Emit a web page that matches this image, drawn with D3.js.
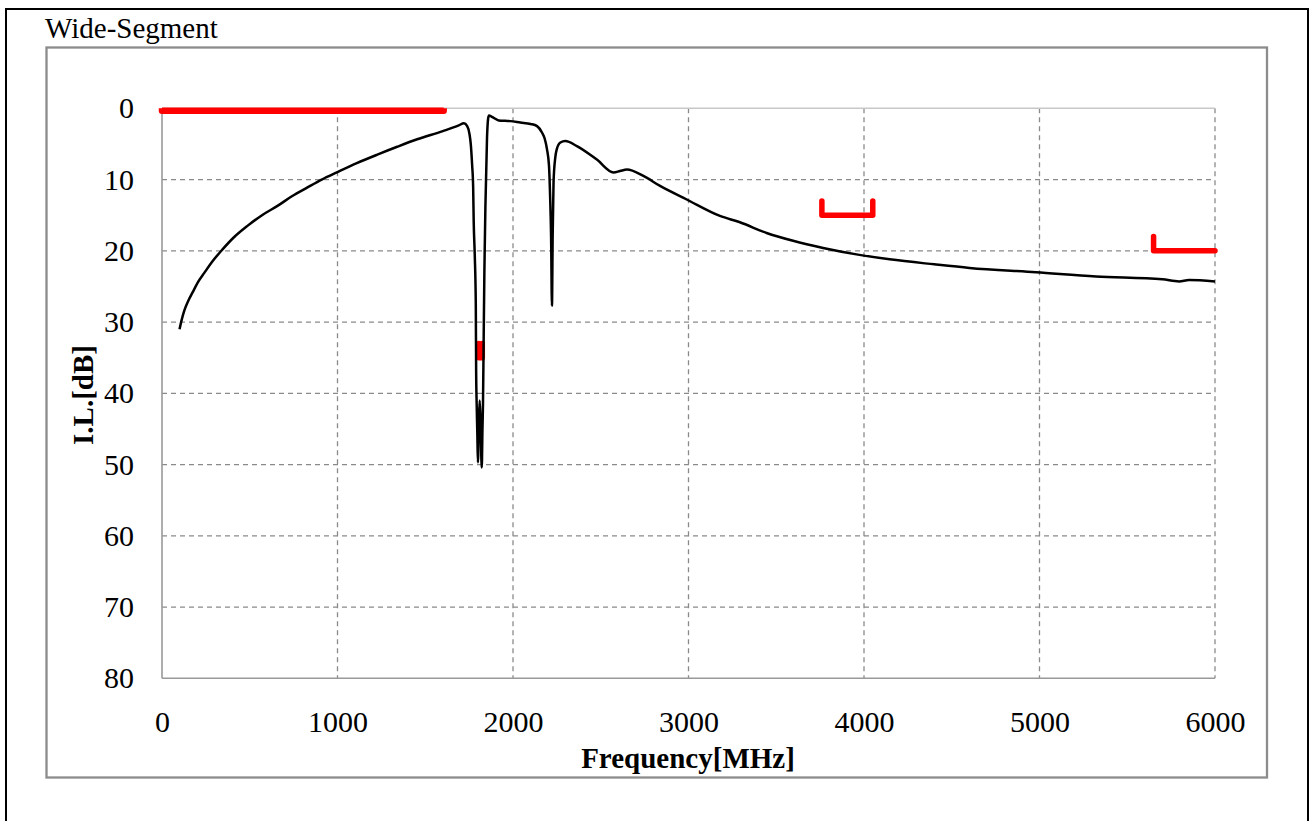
<!DOCTYPE html>
<html>
<head>
<meta charset="utf-8">
<script src="https://cdn.jsdelivr.net/npm/d3@7"></script>
<style>
body { margin: 0; background: #fff; }
text { font-family: "Liberation Serif", "Times New Roman", serif; }
</style>
</head>
<body>
<svg id="chart" width="1316" height="821"></svg>
<script>
// measured insertion loss
const freqMHz = [100, 110, 127, 150, 175, 205, 241, 290, 345, 410, 487, 570, 658, 740, 829, 910, 1000, 1110, 1227, 1340, 1454, 1600, 1691, 1720, 1739, 1752, 1760, 1767, 1773, 1776, 1782, 1788, 1790, 1793, 1797, 1800, 1806, 1810, 1815, 1822, 1826, 1829, 1833, 1837, 1843, 1852, 1858, 1863, 1880, 1918, 1985, 2042, 2100, 2137, 2165, 2180, 2194, 2205, 2212, 2217, 2222, 2226, 2231, 2241, 2250, 2270, 2298, 2364, 2478, 2573, 2610, 2649, 2743, 2838, 2990, 3179, 3293, 3445, 3596, 3767, 3957, 4146, 4400, 4601, 4980, 5322, 5700, 5795, 5852, 6000];
const ilDB = [31.0, 29.9, 28.4, 27.0, 25.8, 24.4, 23.1, 21.4, 19.8, 18.1, 16.5, 15.0, 13.7, 12.35, 11.1, 10.0, 8.95, 7.7, 6.5, 5.4, 4.35, 3.2, 2.4, 2.1, 2.5, 3.6, 5.2, 7.9, 11.1, 15.8, 20.5, 27.5, 36.9, 41.5, 46, 49.7, 44, 41, 44, 50.4, 45, 41.5, 32, 22.8, 13.5, 4.1, 1.5, 1.0, 1.2, 1.7, 1.8, 2.0, 2.2, 2.5, 3.4, 4.2, 5.8, 8.0, 12.8, 18, 27.7, 18, 10.4, 6.9, 5.7, 4.8, 4.6, 5.3, 7.2, 9.0, 8.8, 8.6, 9.5, 10.9, 12.8, 15.1, 16.0, 17.5, 18.6, 19.6, 20.5, 21.2, 21.9, 22.4, 23.0, 23.6, 24.0, 24.3, 24.1, 24.3];

// spec masks (red)
const specStart = [0, 1805, 3760, 5650];
const specStop = [1605, 1825, 4050, 6000];
const specLevel = [0.35, 35, 15, 20];
const specTop = [0, 33, 13, 18];
const specTicks = ["both", "both", "both", "left"];

const xTicks = [0, 1000, 2000, 3000, 4000, 5000, 6000];
const yTicks = [0, 10, 20, 30, 40, 50, 60, 70, 80];

const svg = d3.select("#chart");

const x = d3.scaleLinear().domain([0, 6000]).range([162, 1215]);
const y = d3.scaleLinear().domain([0, 80]).range([108.3, 678.3]);

// outer border
svg.append("rect")
    .attr("x", 6).attr("y", 9)
    .attr("width", 1302).attr("height", 830)
    .attr("fill", "none")
    .attr("stroke", "#000")
    .attr("stroke-width", 2);

svg.append("text")
    .attr("x", 45).attr("y", 38)
    .attr("font-size", 29)
    .text("Wide-Segment");

// chart frame
svg.append("rect")
    .attr("x", 46.5).attr("y", 47.5)
    .attr("width", 1220.5).attr("height", 730)
    .attr("fill", "none")
    .attr("stroke", "#8c8c8c")
    .attr("stroke-width", 2.3);

// grid
const grid = svg.append("g");
grid.selectAll("line.vg")
    .data(xTicks.slice(1))
    .enter()
    .append("line")
    .attr("class", "vg")
    .attr("x1", d => x(d)).attr("x2", d => x(d))
    .attr("y1", y(0)).attr("y2", y(80));
grid.selectAll("line.hg")
    .data(yTicks.slice(1, -1))
    .enter()
    .append("line")
    .attr("class", "hg")
    .attr("x1", x(0)).attr("x2", x(6000))
    .attr("y1", d => y(d)).attr("y2", d => y(d));
grid.selectAll("line")
    .attr("stroke", "#8a8a8a")
    .attr("stroke-width", 1.3)
    .attr("stroke-dasharray", "5,4");

svg.append("line")
    .attr("x1", x(0)).attr("x2", x(6000))
    .attr("y1", y(0)).attr("y2", y(0))
    .attr("stroke", "#c8c8c8").attr("stroke-width", 1.5);
svg.append("line")
    .attr("x1", x(0)).attr("x2", x(0))
    .attr("y1", y(0)).attr("y2", y(80))
    .attr("stroke", "#999").attr("stroke-width", 1.6);
svg.append("line")
    .attr("x1", x(0)).attr("x2", x(6000))
    .attr("y1", y(80)).attr("y2", y(80))
    .attr("stroke", "#999").attr("stroke-width", 1.6);

// axes labels
const yAxis = svg.append("g")
    .attr("transform", `translate(${x(0)},0)`)
    .call(d3.axisLeft(y).tickValues(yTicks).tickSize(0).tickPadding(28));
const xAxis = svg.append("g")
    .attr("transform", `translate(0,${y(80)})`)
    .call(d3.axisBottom(x).tickValues(xTicks).tickSize(0).tickPadding(32).tickFormat(d3.format("d")));
[yAxis, xAxis].forEach(function(a) {
    a.select(".domain").remove();
    a.attr("font-size", 30)
     .attr("font-family", "Liberation Serif, serif");
    a.selectAll("text").attr("fill", "#000");
});

svg.append("text")
    .attr("x", 688).attr("y", 768)
    .attr("text-anchor", "middle")
    .attr("font-size", 29)
    .attr("font-weight", "bold")
    .text("Frequency[MHz]");

svg.append("text")
    .attr("transform", "translate(93,395) rotate(-90)")
    .attr("text-anchor", "middle")
    .attr("font-size", 29)
    .attr("font-weight", "bold")
    .text("I.L.[dB]");

// spec masks
const masks = specStart.map(function(s, i) {
    const pts = [];
    if (specTicks[i] === "both" || specTicks[i] === "left") pts.push([s, specTop[i]]);
    pts.push([s, specLevel[i]]);
    pts.push([specStop[i], specLevel[i]]);
    if (specTicks[i] === "both") pts.push([specStop[i], specTop[i]]);
    return pts;
});
const maskLine = d3.line().x(d => x(d[0])).y(d => y(d[1]));
svg.selectAll("path.mask")
    .data(masks)
    .enter()
    .append("path")
    .attr("class", "mask")
    .attr("d", maskLine)
    .attr("fill", "none")
    .attr("stroke", "#ff0000")
    .attr("stroke-width", (d, i) => i === 0 ? 6.5 : 5.5)
    .attr("stroke-linejoin", "round")
    .attr("stroke-linecap", (d, i) => i === 0 ? "butt" : "round");

// trace
const trace = freqMHz.map((f, i) => [f, ilDB[i]]);
svg.append("path")
    .datum(trace)
    .attr("d", d3.line().curve(d3.curveMonotoneX).x(d => x(d[0])).y(d => y(d[1])))
    .attr("fill", "none")
    .attr("stroke", "#000")
    .attr("stroke-width", 2.5)
    .attr("stroke-linejoin", "round");
</script>
</body>
</html>
